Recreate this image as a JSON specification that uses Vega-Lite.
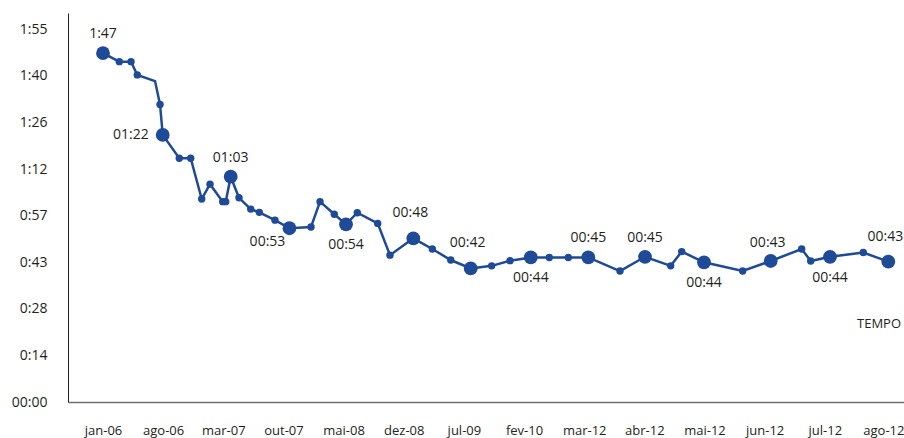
{
  "$schema": "https://vega.github.io/schema/vega-lite/v6.json",
  "width": 836,
  "height": 389,
  "autosize": {"type": "none"},
  "padding": {"left": 68, "top": 13, "right": 0, "bottom": 36},
  "background": "white",
  "config": {"view": {"stroke": null}, "font": "Open Sans"},
  "data": {
    "values": [
      {"t": 0.0, "min": 107.6, "tipo": "grande", "rotulo": "1:47", "serie": "TEMPO"},
      {"t": 0.271, "min": 105.0, "tipo": "pequeno", "rotulo": "", "serie": "TEMPO"},
      {"t": 0.466, "min": 105.0, "tipo": "pequeno", "rotulo": "", "serie": "TEMPO"},
      {"t": 0.570, "min": 100.9, "tipo": "pequeno", "rotulo": "", "serie": "TEMPO"},
      {"t": 0.865, "min": 99.0, "tipo": "nenhum", "rotulo": "", "serie": "TEMPO"},
      {"t": 0.948, "min": 91.8, "tipo": "pequeno", "rotulo": "", "serie": "TEMPO"},
      {"t": 0.993, "min": 82.4, "tipo": "grande", "rotulo": "01:22", "serie": "TEMPO"},
      {"t": 1.268, "min": 75.2, "tipo": "pequeno", "rotulo": "", "serie": "TEMPO"},
      {"t": 1.458, "min": 75.2, "tipo": "pequeno", "rotulo": "", "serie": "TEMPO"},
      {"t": 1.641, "min": 62.6, "tipo": "pequeno", "rotulo": "", "serie": "TEMPO"},
      {"t": 1.779, "min": 67.2, "tipo": "pequeno", "rotulo": "", "serie": "TEMPO"},
      {"t": 1.990, "min": 61.8, "tipo": "pequeno", "rotulo": "", "serie": "TEMPO"},
      {"t": 2.040, "min": 61.8, "tipo": "pequeno", "rotulo": "", "serie": "TEMPO"},
      {"t": 2.123, "min": 69.5, "tipo": "grande", "rotulo": "01:03", "serie": "TEMPO"},
      {"t": 2.261, "min": 63.0, "tipo": "pequeno", "rotulo": "", "serie": "TEMPO"},
      {"t": 2.456, "min": 59.5, "tipo": "pequeno", "rotulo": "", "serie": "TEMPO"},
      {"t": 2.599, "min": 58.5, "tipo": "pequeno", "rotulo": "", "serie": "TEMPO"},
      {"t": 2.859, "min": 56.1, "tipo": "pequeno", "rotulo": "", "serie": "TEMPO"},
      {"t": 3.100, "min": 53.6, "tipo": "grande", "rotulo": "00:53", "serie": "TEMPO"},
      {"t": 3.458, "min": 54.0, "tipo": "pequeno", "rotulo": "", "serie": "TEMPO"},
      {"t": 3.608, "min": 61.8, "tipo": "pequeno", "rotulo": "", "serie": "TEMPO"},
      {"t": 3.845, "min": 57.9, "tipo": "pequeno", "rotulo": "", "serie": "TEMPO"},
      {"t": 4.040, "min": 54.8, "tipo": "grande", "rotulo": "00:54", "serie": "TEMPO"},
      {"t": 4.228, "min": 58.4, "tipo": "pequeno", "rotulo": "", "serie": "TEMPO"},
      {"t": 4.567, "min": 55.1, "tipo": "pequeno", "rotulo": "", "serie": "TEMPO"},
      {"t": 4.771, "min": 45.3, "tipo": "pequeno", "rotulo": "", "serie": "TEMPO"},
      {"t": 5.159, "min": 50.5, "tipo": "grande", "rotulo": "00:48", "serie": "TEMPO"},
      {"t": 5.475, "min": 47.2, "tipo": "pequeno", "rotulo": "", "serie": "TEMPO"},
      {"t": 5.781, "min": 43.8, "tipo": "pequeno", "rotulo": "", "serie": "TEMPO"},
      {"t": 6.113, "min": 41.2, "tipo": "grande", "rotulo": "00:42", "serie": "TEMPO"},
      {"t": 6.462, "min": 42.0, "tipo": "pequeno", "rotulo": "", "serie": "TEMPO"},
      {"t": 6.767, "min": 43.6, "tipo": "pequeno", "rotulo": "", "serie": "TEMPO"},
      {"t": 7.112, "min": 44.6, "tipo": "grande", "rotulo": "00:44", "serie": "TEMPO"},
      {"t": 7.420, "min": 44.6, "tipo": "pequeno", "rotulo": "", "serie": "TEMPO"},
      {"t": 7.736, "min": 44.6, "tipo": "pequeno", "rotulo": "", "serie": "TEMPO"},
      {"t": 8.068, "min": 44.6, "tipo": "grande", "rotulo": "00:45", "serie": "TEMPO"},
      {"t": 8.595, "min": 40.4, "tipo": "pequeno", "rotulo": "", "serie": "TEMPO"},
      {"t": 9.011, "min": 44.8, "tipo": "grande", "rotulo": "00:45", "serie": "TEMPO"},
      {"t": 9.438, "min": 42.0, "tipo": "pequeno", "rotulo": "", "serie": "TEMPO"},
      {"t": 9.621, "min": 46.4, "tipo": "pequeno", "rotulo": "", "serie": "TEMPO"},
      {"t": 9.992, "min": 43.1, "tipo": "grande", "rotulo": "00:44", "serie": "TEMPO"},
      {"t": 10.635, "min": 40.4, "tipo": "pequeno", "rotulo": "", "serie": "TEMPO"},
      {"t": 11.101, "min": 43.5, "tipo": "grande", "rotulo": "00:43", "serie": "TEMPO"},
      {"t": 11.616, "min": 47.2, "tipo": "pequeno", "rotulo": "", "serie": "TEMPO"},
      {"t": 11.766, "min": 43.5, "tipo": "pequeno", "rotulo": "", "serie": "TEMPO"},
      {"t": 12.087, "min": 44.8, "tipo": "grande", "rotulo": "00:44", "serie": "TEMPO"},
      {"t": 12.640, "min": 46.1, "tipo": "pequeno", "rotulo": "", "serie": "TEMPO"},
      {"t": 13.056, "min": 43.3, "tipo": "grande", "rotulo": "00:43", "serie": "TEMPO"}
    ]
  },
  "encoding": {
    "x": {
      "field": "t",
      "type": "quantitative",
      "scale": {"domain": [-0.582, 13.317], "nice": false, "zero": false},
      "axis": {
        "title": null,
        "values": [0, 1, 2, 3, 4, 5, 6, 7, 8, 9, 10, 11, 12, 13],
        "labelExpr": "['jan-06','ago-06','mar-07','out-07','mai-08','dez-08','jul-09','fev-10','mar-12','abr-12','mai-12','jun-12','jul-12','ago-12'][round(datum.value)]",
        "ticks": false,
        "tickSize": 0,
        "grid": false,
        "domainColor": "#6d6e71",
        "domainWidth": 1.5,
        "labelPadding": 22,
        "labelFontSize": 13,
        "labelColor": "#231f20",
        "labelFont": "Open Sans",
        "labelAlign": {"condition": {"test": "datum.value == 13", "value": "right"}, "value": "center"},
        "labelOffset": {"condition": {"test": "datum.value == 13", "value": 19}, "value": 0},
        "labelFlush": false,
        "labelOverlap": false
      }
    },
    "y": {
      "field": "min",
      "type": "quantitative",
      "scale": {"domain": [0, 120], "nice": false, "zero": true},
      "axis": {
        "title": null,
        "values": [0, 14.375, 28.75, 43.125, 57.5, 71.875, 86.25, 100.625, 115],
        "labelExpr": "['00:00','0:14','0:28','0:43','0:57','1:12','1:26','1:40','1:55'][round(datum.value/14.375)]",
        "ticks": false,
        "tickSize": 0,
        "grid": false,
        "domainColor": "#231f20",
        "domainWidth": 1,
        "labelPadding": 21,
        "labelFontSize": 14,
        "labelColor": "#231f20",
        "labelFont": "Open Sans",
        "labelOverlap": false
      }
    }
  },
  "layer": [
    {
      "mark": {"type": "line", "strokeWidth": 2.5},
      "encoding": {
        "color": {
          "field": "serie",
          "type": "nominal",
          "scale": {"range": ["#1f4a97"]},
          "legend": {
            "title": null,
            "orient": "none",
            "legendX": 776,
            "legendY": 304,
            "symbolOpacity": 0,
            "symbolSize": 0,
            "symbolStrokeWidth": 0,
            "labelOffset": 0,
            "labelFontSize": 13,
            "labelColor": "#231f20",
            "labelFont": "Open Sans"
          }
        }
      }
    },
    {
      "transform": [{"filter": "datum.tipo != 'nenhum'"}],
      "mark": {"type": "circle", "opacity": 1},
      "encoding": {
        "color": {"field": "serie", "type": "nominal", "legend": null},
        "size": {
          "field": "tipo",
          "type": "nominal",
          "scale": {"domain": ["grande", "pequeno"], "range": [190, 55]},
          "legend": null
        }
      }
    },
    {
      "transform": [{"filter": {"field": "rotulo", "oneOf": ["1:47", "01:03", "00:45"]}}],
      "mark": {"type": "text", "dy": -19, "fontSize": 14, "font": "Open Sans", "color": "#231f20"},
      "encoding": {"text": {"field": "rotulo"}}
    },
    {
      "transform": [{"filter": "datum.rotulo == '00:48' || datum.rotulo == '00:42' || (datum.rotulo == '00:43' && datum.t > 12)"}],
      "mark": {"type": "text", "dy": -25, "dx": -3, "fontSize": 14, "font": "Open Sans", "color": "#231f20"},
      "encoding": {"text": {"field": "rotulo"}}
    },
    {
      "transform": [{"filter": "datum.rotulo == '00:43' && datum.t < 12"}],
      "mark": {"type": "text", "dy": -18, "dx": -3, "fontSize": 14, "font": "Open Sans", "color": "#231f20"},
      "encoding": {"text": {"field": "rotulo"}}
    },
    {
      "transform": [{"filter": {"field": "rotulo", "oneOf": ["00:54", "00:44"]}}],
      "mark": {"type": "text", "dy": 21, "fontSize": 14, "font": "Open Sans", "color": "#231f20"},
      "encoding": {"text": {"field": "rotulo"}}
    },
    {
      "transform": [{"filter": {"field": "rotulo", "equal": "00:53"}}],
      "mark": {"type": "text", "dy": 14, "dx": -22, "fontSize": 14, "font": "Open Sans", "color": "#231f20"},
      "encoding": {"text": {"field": "rotulo"}}
    },
    {
      "transform": [{"filter": {"field": "rotulo", "equal": "01:22"}}],
      "mark": {"type": "text", "dx": -14, "align": "right", "fontSize": 14, "font": "Open Sans", "color": "#231f20"},
      "encoding": {"text": {"field": "rotulo"}}
    }
  ]
}
